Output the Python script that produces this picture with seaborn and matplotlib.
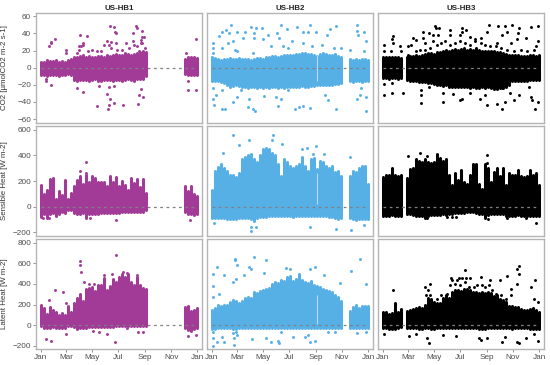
import numpy as np
import pandas as pd
import seaborn as sns
import matplotlib
matplotlib.use("Agg")
import matplotlib.pyplot as plt

nan = np.nan
gap12 = [nan] * 12

# day of year for each column of the dense cloud (one column a week)
dias = list(range(0, 365, 7))
tick_days = [0, 59, 120, 181, 243, 304, 365]
tick_labels = ["Jan", "Mar", "May", "Jul", "Sep", "Nov", "Jan"]
sites = ["US-HB1", "US-HB2", "US-HB3"]
row_labels = ["CO2 [µmolCO2 m-2 s-1]", "Sensible Heat [W m-2]", "Latent Heat [W m-2]"]
site_colors = ["#A23A97", "#56B0E6", "#000000"]

# top and bottom of the dense cloud, week by week
hb1_co2_hi = [7, 7, 9, 8, 8, 9, 7, 8, 7, 9, 10, 12, 13, 14, 15, 13, 14, 13, 12, 14, 14, 13, 15, 14, 15, 16, 15, 15, 17, 16, 15, 16, 17, 18, 19, 18] + gap12 + [10, 12, 13, 12, 11]
hb1_co2_lo = [-8, -9, -10, -9, -9, -9, -10, -8, -9, -7, -8, -14, -15, -14, -14, -14, -15, -14, -13, -15, -16, -14, -14, -14, -15, -14, -14, -15, -14, -13, -14, -15, -13, -13, -13, -10] + gap12 + [-7, -8, -9, -9, -8]
hb2_co2_hi = [12, 11, 10, 9, 10, 10, 11, 10, 10, 11, 10, 10, 10, 9, 10, 11, 11, 10, 12, 13, 14, 14, 13, 14, 15, 15, 15, 15, 16, 16, 17, 17, 16, 16, 15, 14, 16, 17, 16, 15, 15, 16, 14, 13, nan, nan, 10, 9, 10, 9, 10, 10, 9]
hb2_co2_lo = [-15, -15, -16, -17, -18, -20, -22, -21, -20, -21, -22, -22, -24, -23, -22, -24, -23, -24, -22, -24, -22, -23, -24, -22, -24, -23, -22, -23, -22, -23, -21, -22, -22, -21, -21, -20, -20, -20, -20, -20, -20, -19, -19, -18, nan, nan, -16, -17, -16, -16, -17, -16, -15]
hb3_co2_hi = [12, 12, 13, 12, 13, 12, 11, nan, 13, 14, 14, 15, 14, 15, 16, 17, 17, 16, 18, 18, 20, 21, 20, 21, 22, 21, 22, 23, 21, 22, 21, 23, 21, 20, 20, 19, 20, 19, 18, 18, 17, 16, 15, 15, 15, 15, 14, 14, 14, 15, 15, 14, 15]
hb3_co2_lo = [-12, -12, -13, -12, -12, -13, -12, nan, -14, -15, -16, -16, -17, -17, -17, -18, -18, -19, -20, -20, -21, -20, -22, -22, -23, -22, -22, -23, -23, -24, -23, -24, -24, -23, -24, -22, -24, -25, -25, -24, -24, -23, -20, -16, -16, -15, -15, -15, -15, -14, -14, -14, -14]

hb1_sh_hi = [165, 100, 130, 215, 220, 60, 125, 90, 205, 60, 110, 160, 210, 240, 180, 250, 190, 240, 220, 190, 195, 190, 160, 240, 190, 230, 160, 200, 170, 130, 225, 185, 215, 150, 215, 110] + gap12 + [160, 120, 160, 100, 85]
hb1_sh_lo = [-80, -60, -90, -60, -50, -70, -60, -40, -50, -30, -30, -50, -55, -60, -50, -90, -60, -55, -60, -60, -50, -50, -50, -50, -50, -50, -50, -45, -40, -40, -40, -40, -45, -40, -45, -30] + gap12 + [-40, -60, -60, -65, -60]
hb2_sh_hi = [130, 280, 310, 335, 300, 280, 250, 245, 230, 260, 375, 390, 400, 410, 370, 350, 400, 450, 455, 450, 420, 400, 335, 240, 370, 350, 320, 300, 320, 330, 390, 320, 280, 370, 380, 290, 360, 350, 320, 300, 320, 270, 280, 240, nan, nan, 240, 280, 270, 300, 320, 320, 180]
hb2_sh_lo = [-90, -90, -90, -85, -90, -95, -95, -100, -100, -90, -90, -85, -90, -95, -110, -90, -80, -80, -80, -75, -75, -70, -70, -70, -70, -70, -75, -80, -75, -75, -75, -70, -70, -70, -70, -70, -75, -75, -75, -80, -80, -85, -95, -85, nan, nan, -90, -100, -105, -100, -100, -100, -100]
hb3_sh_hi = [230, 250, 250, 300, 250, 240, 245, nan, 220, 290, 300, 370, 360, 350, 370, 350, 340, 350, 400, 380, 360, 370, 250, 170, 265, 210, 285, 190, 180, 250, 335, 330, 180, 140, 335, 300, 190, 270, 300, 240, 300, 170, 260, 250, 250, 285, 240, 235, 240, 285, 250, 260, 170]
hb3_sh_lo = [-70, -70, -70, -65, -70, -70, -75, nan, -60, -60, -65, -70, -75, -75, -85, -70, -65, -65, -65, -65, -60, -65, -60, -55, -50, -50, -50, -50, -45, -40, -45, -50, -55, -60, -85, -65, -60, -60, -60, -60, -60, -75, -70, -70, -70, -65, -70, -70, -70, -75, -70, -70, -70]

hb1_le_hi = [200, 170, 110, 175, 150, 130, 95, 115, 100, 190, 130, 215, 260, 300, 230, 355, 360, 370, 330, 385, 385, 460, 340, 380, 450, 420, 470, 500, 470, 500, 420, 390, 470, 390, 360, 350] + gap12 + [180, 190, 140, 150, 170]
hb1_le_lo = [-10, -25, -30, -30, -20, -25, -30, -25, -25, -10, -10, -15, -40, -30, -30, -25, -20, -20, -20, -15, -15, -15, -15, -15, -15, -10, -10, -10, -10, -10, -10, -10, -10, -10, -10, -10] + gap12 + [-30, -50, -60, -40, -30]
hb2_le_hi = [150, 170, 200, 190, 200, 195, 220, 240, 230, 215, 230, 260, 270, 265, 320, 310, 330, 340, 355, 360, 400, 420, 410, 440, 430, 470, 480, 430, 450, 500, 440, 420, 410, 430, 385, 380, 370, 350, 340, 330, 320, 290, 270, 230, nan, nan, 140, 180, 200, 170, 190, 190, 190]
hb2_le_lo = [-40, -35, -30, -30, -30, -30, -30, -35, -35, -30, -30, -25, -25, -25, -25, -25, -25, -25, -25, -25, -25, -25, -25, -25, -25, -25, -25, -25, -25, -25, -25, -25, -25, -25, -25, -25, -25, -25, -25, -25, -25, -25, -25, -25, nan, nan, -30, -30, -30, -30, -30, -30, -30]
hb3_le_hi = [130, 130, 110, 120, 210, 130, 160, nan, 140, 150, 155, 170, 180, 170, 200, 260, 250, 220, 210, 215, 260, 290, 260, 320, 340, 340, 330, 350, 350, 340, 320, 320, 310, 320, 310, 320, 310, 280, 290, 250, 240, 220, 190, 190, 180, 180, 160, 150, 150, 160, 170, 150, 130]
hb3_le_lo = [-25, -25, -35, -40, -40, -30, -20, nan, -25, -30, -30, -30, -35, -35, -30, -30, -35, -35, -30, -30, -30, -25, -25, -25, -25, -25, -30, -30, -30, -30, -30, -30, -35, -35, -35, -30, -30, -30, -30, -30, -25, -30, -30, -35, -30, -30, -30, -30, -30, -35, -35, -35, -40]

# single points standing clear of the cloud: (day, value)
hb1_co2_pts = [(19, 25), (23, 29), (25, 30), (33, 33), (58, 21), (58, 17), (91, 38), (107, 37), (99, 29), (89, 25), (161, 49), (171, 47), (173, 42), (176, 40), (221, 49), (215, 40), (237, 43), (224, 46), (237, 36), (233, 29), (163, 30), (159, 27), (361, 34), (338, 17), (13, -16), (13, -13), (23, -20), (84, -24), (99, -28), (132, -45), (157, -48), (159, -43), (155, -31), (161, -36), (171, -41), (192, -43), (227, -42), (229, -32), (238, -34), (234, -25), (344, -26), (361, -26), (159, -23), (171, -21), (136, -21), (344, -16),
               (89, 21), (93, 25), (98, 27), (84, 17), (110, 19), (120, 21), (132, 19), (140, 19), (148, 27), (155, 31), (163, 23), (175, 29), (178, 21), (190, 21), (198, 29), (206, 23), (214, 31), (217, 27), (225, 25), (233, 32), (241, 36), (237, 29), (242, 23), (229, 19)]
hb2_co2_pts = [(46, 50), (33, 44), (24, 42), (17, 37), (41, 40), (59, 42), (72, 35), (78, 42), (92, 47), (104, 46), (117, 46), (98, 41), (98, 35), (119, 33), (131, 38), (162, 50), (153, 41), (176, 45), (158, 35), (198, 48), (229, 50), (213, 42), (225, 42), (242, 42), (276, 45), (290, 49), (268, 38), (338, 50), (338, 43), (341, 38), (355, 42), (360, 31), (3, 29), (3, 23), (3, 17), (25, 23), (37, 29), (49, 31), (55, 21), (60, 19), (96, 17), (139, 25), (166, 25), (178, 23), (188, 31), (213, 29), (233, 25), (257, 27), (284, 23), (301, 23), (323, 21), (356, 20),
               (3, -24), (3, -36), (11, -32), (25, -26), (5, -44), (25, -48), (31, -48), (49, -40), (60, -34), (68, -26), (88, -36), (96, -48), (102, -50), (84, -46), (123, -33), (155, -45), (151, -34), (162, -36), (194, -48), (204, -46), (213, -45), (228, -47), (178, -26), (265, -32), (272, -38), (290, -48), (339, -36), (345, -32), (360, -34), (360, -50), (347, -24)]
hb3_co2_pts = [(24, 37), (22, 33), (24, 29), (4, 27), (2, 19), (41, 25), (20, 19), (43, 19), (59, 25), (67, 27), (71, 35), (78, 32), (94, 42), (108, 41), (122, 49), (124, 46), (132, 46), (130, 38), (118, 38), (94, 35), (98, 29), (118, 31), (157, 44), (157, 38), (184, 46), (184, 42), (195, 44), (181, 38), (204, 36), (216, 33), (228, 35), (247, 50), (268, 49), (286, 49), (302, 50), (318, 46), (315, 40), (289, 42), (279, 38), (243, 42), (345, 48), (361, 49), (333, 35), (361, 31), (357, 25), (314, 33), (298, 29), (267, 29),
               (2, -32), (4, -19), (22, -18), (22, -29), (47, -29), (90, -26), (90, -32), (90, -41), (108, -23), (140, -40), (140, -29), (165, -31), (181, -38), (184, -37), (204, -29), (226, -36), (243, -44), (239, -32), (267, -42), (279, -48), (286, -40), (296, -29), (306, -38), (318, -32), (345, -34), (349, -38), (355, -48), (361, -40), (341, -22), (279, -24),
               (98, 21), (110, 23), (126, 27), (137, 29), (145, 31), (157, 27), (169, 29), (181, 31), (192, 29), (204, 27), (216, 31), (228, 29), (239, 27), (251, 25), (263, 25), (275, 23), (290, 21), (306, 19), (322, 21), (337, 19), (353, 21), (59, 15), (78, 19), (86, 21)]

hb1_sh_pts = [(105, 350), (92, 277), (175, -103), (349, -103), (115, -90), (19, -90), (5, -85), (105, 264)]
hb2_sh_pts = [(49, 561), (86, 517), (143, 556), (141, 517), (164, 491), (64, 478), (27, 419), (210, 452), (221, 458), (243, 473), (323, 388), (235, 414), (261, 414), (92, -189), (92, -155), (104, -155), (228, -160), (290, -176), (325, -181), (5, -129), (355, -142)]
hb3_sh_pts = [(86, 422), (60, 393), (242, 401), (242, 344), (357, -129), (245, -98), (151, -78), (161, -78), (171, -78), (290, -90), (334, -85), (104, -90), (104, 393), (127, 414)]

hb1_le_pts = [(175, 684), (91, 623), (91, 580), (93, 516), (33, 345), (52, 323), (19, 242), (58, 216), (148, 490), (167, 494), (192, 516), (202, 510), (224, 484), (13, -139), (23, -152), (58, -87), (172, -161), (123, -55), (136, -71), (155, -87), (227, -65), (238, -65), (343, -103), (361, -97), (202, -32), (101, 420), (112, 403), (124, 403)]
hb2_le_pts = [(55, 645), (55, 629), (59, 581), (98, 661), (127, 629), (13, 565), (3, 500), (3, 381), (29, 484), (88, 565), (92, 548), (76, 490), (49, 419), (57, 452), (123, 506), (345, 639), (325, 523), (360, 403), (241, 565), (228, 548), (262, 490), (300, 413), (17, 306), (3, 274), (182, 548), (174, 555),
              (3, -200), (3, -129), (3, -65), (13, -161), (29, -161), (24, -113), (51, -194), (53, -129), (49, -81), (57, -65), (60, -97), (94, -135), (127, -123), (139, -161), (155, -155), (157, -177), (190, -113), (217, -113), (225, -97), (228, -168), (241, -155), (270, -71), (288, -71), (338, -81), (360, -71), (161, -65)]
hb3_le_pts = [(24, 339), (110, 397), (98, 371), (191, 532), (159, 458), (177, 461), (186, 458), (195, 458), (204, 458), (230, 468), (251, 435), (290, 474), (314, 548), (318, 571), (318, 500), (314, 403), (298, 355), (355, 442), (345, 371), (353, 258), (361, 226), (273, 435),
              (2, -90), (61, -106), (78, -90), (104, -129), (108, -177), (140, -97), (171, -106), (224, -129), (229, -145), (243, -129), (277, -168), (314, -168), (318, -174), (334, -123), (361, -155), (286, -113), (353, -90),
              (157, 387), (161, 435), (169, 403), (174, 435), (180, 387), (192, 419), (202, 371), (212, 371), (220, 387), (232, 387), (239, 371), (247, 387), (255, 339), (265, 306), (275, 290), (149, 306), (137, 290), (126, 258), (110, 290), (106, 339), (102, 290), (287, 258), (298, 290), (283, 226)]

# pale stripe through the HB2 cloud, where the points thin out
hb2_stripe_day = 246
hb2_stripe_lo = [-16, 20, 15]
hb2_stripe_hi = [15, 260, 290]

paineis = [
    [(hb1_co2_hi, hb1_co2_lo, hb1_co2_pts), (hb2_co2_hi, hb2_co2_lo, hb2_co2_pts), (hb3_co2_hi, hb3_co2_lo, hb3_co2_pts)],
    [(hb1_sh_hi, hb1_sh_lo, hb1_sh_pts), (hb2_sh_hi, hb2_sh_lo, hb2_sh_pts), (hb3_sh_hi, hb3_sh_lo, hb3_sh_pts)],
    [(hb1_le_hi, hb1_le_lo, hb1_le_pts), (hb2_le_hi, hb2_le_lo, hb2_le_pts), (hb3_le_hi, hb3_le_lo, hb3_le_pts)],
]
y_limits = [(-64.5, 64.5), (-229, 633), (-232, 841)]
y_ticks = [[-60, -40, -20, 0, 20, 40, 60], [-200, 0, 200, 400, 600], [-200, 0, 200, 400, 600, 800]]

sns.set_theme(style="white")
plt.rcParams["font.family"] = ["Liberation Sans", "DejaVu Sans"]

fig, axes = plt.subplots(3, 3, figsize=(5.5, 3.65), dpi=100, sharex=True)
fig.subplots_adjust(left=36 / 550, right=544 / 550, top=1 - 12.5 / 365, bottom=1 - 349 / 365, wspace=0.03, hspace=0.023)

for r in range(3):
    for c in range(3):
        ax = axes[r, c]
        hi, lo, pts = paineis[r][c]
        # the cloud is too dense to read point by point, so each week is one column
        ax.vlines(dias, lo, hi, color=site_colors[c], lw=2.2, capstyle="round")
        if c == 1:
            ax.vlines(hb2_stripe_day, hb2_stripe_lo[r], hb2_stripe_hi[r], color="#BFE0F6", lw=0.7)
        df = pd.DataFrame(pts, columns=["dia", "valor"])
        sns.scatterplot(data=df, x="dia", y="valor", ax=ax, color=site_colors[c], s=4.5, linewidth=0, legend=False)
        ax.plot([0, 365], [0, 0], color="#808080", lw=0.9, ls=(0, (2.2, 2.8)))
        ax.set_xlim(-11, 376)
        ax.set_ylim(*y_limits[r])
        ax.set_xlabel("")
        ax.set_ylabel("")
        ax.set_xticks(tick_days)
        ax.set_xticklabels(tick_labels)
        ax.set_yticks(y_ticks[r])
        for s in ax.spines.values():
            s.set_color("#b4b4b4")
            s.set_linewidth(1.0)
        ax.tick_params(axis="x", bottom=r == 2, labelbottom=r == 2, length=2, width=0.6, color="#808080", labelsize=5.9, labelcolor="#4d4d4d", pad=1.5)
        ax.tick_params(axis="y", left=c == 0, labelleft=c == 0, length=2, width=0.6, color="#808080", labelsize=5.9, labelcolor="#4d4d4d", pad=1.5)
        if r == 0:
            ax.set_title(sites[c], fontsize=5.7, fontweight="bold", color="#222222", pad=2)
    axes[r, 0].set_ylabel(row_labels[r], fontsize=5.7, color="#333333")
    axes[r, 0].yaxis.set_label_coords(-28 / 166, 0.5)

fig.savefig("out.png", dpi=100)
